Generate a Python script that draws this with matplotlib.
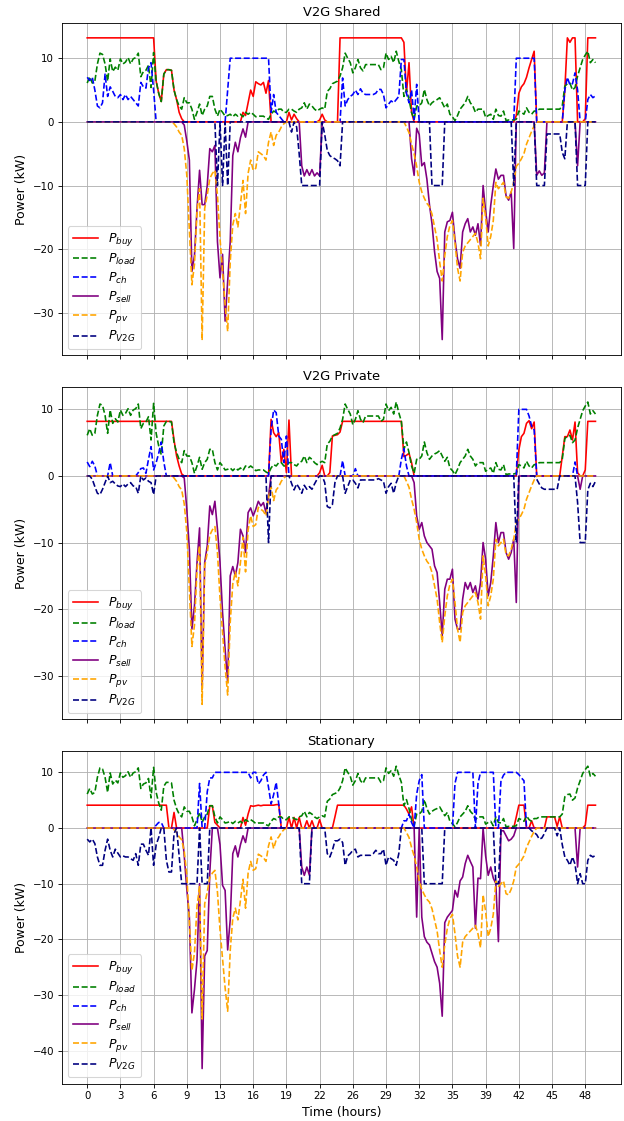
import numpy as np
import matplotlib
matplotlib.use("Agg")
import matplotlib.pyplot as plt

# 15-minute steps over two days (200 samples)
hours = np.arange(200) * 0.25

# load and PV are the same in all three scenarios
load = [6.1, 7.1, 6.1, 6.4, 9.1, 10.8, 10.6, 9.1,
        6.4, 9.9, 7.9, 8.6, 8.1, 9.9, 9.1, 9.4,
        10.1, 9.1, 9.9, 10.1, 10.8, 7.1, 7.9, 8.1,
        8.9, 5.4, 10.9, 6.4, 4.5, 3.2, 7.5, 8.2,
        8.2, 8.1, 5.0, 3.5, 2.5, 2.0, 3.8, 3.0,
        3.0, 2.0, 0.4, 1.5, 2.8, 1.0, 2.0, 2.5,
        4.0, 4.0, 2.0, 0.9, 2.0, 1.5, 0.9, 1.0,
        1.2, 0.8, 1.2, 0.9, 1.2, 0.8, 1.5, 1.2,
        1.5, 1.2, 0.8, 0.9, 0.9, 0.9, 0.6, 0.4,
        1.2, 1.7, 1.5, 2.0, 2.0, 1.5, 1.5, 2.0,
        2.0, 1.7, 1.5, 2.0, 2.2, 3.0, 2.0, 2.8,
        2.5, 2.0, 1.7, 2.0, 2.2, 2.0, 4.8, 5.2,
        6.0, 6.2, 6.4, 7.2, 8.5, 10.8, 10.0, 9.3,
        7.7, 8.5, 9.8, 8.5, 8.0, 9.0, 9.0, 9.0,
        9.0, 9.0, 9.0, 8.2, 8.5, 10.8, 9.8, 10.3,
        9.3, 11.1, 9.5, 8.2, 4.0, 5.1, 3.5, 1.5,
        0.4, 2.5, 2.5, 3.0, 5.1, 3.5, 2.5, 3.0,
        3.3, 3.5, 3.8, 3.0, 2.2, 2.8, 1.2, 0.8,
        0.2, 1.0, 2.0, 2.5, 3.0, 4.0, 3.0, 2.5,
        1.5, 2.0, 2.0, 2.0, 0.7, 1.0, 1.2, 0.4,
        2.0, 1.0, 0.9, 1.7, 0.2, 0.3, 0.3, 0.3,
        0.4, 1.7, 1.5, 1.2, 2.2, 1.5, 1.2, 1.7,
        1.7, 2.0, 2.0, 2.0, 2.0, 2.0, 2.0, 2.0,
        2.0, 2.0, 2.5, 5.6, 6.0, 6.1, 5.0, 5.4,
        7.2, 8.5, 9.8, 10.5, 11.1, 9.3, 9.8, 9.3]

pv = ([0] * 34 +
      [-0.3, -0.8, -1.6, -2.1, -4.2, -8.4,
       -17.0, -25.6, -22.4, -14.0, -10.5, -34.3, -13.6, -11.5,
       -8.9, -8.1, -7.6, -11.5, -18.3, -23.5, -28.7, -32.9,
       -22.0, -16.2, -14.4, -16.5, -13.0, -9.2, -14.4, -8.1,
       -6.0, -7.6, -7.3, -4.7, -5.0, -5.3, -6.0, -3.2,
       -1.6, -3.7, -2.1, -1.6, -0.8, -0.3] +
      [0] * 46 +
      [0, -0.8, -1.7, -3.5, -5.0, -7.0, -9.5, -11.0,
       -12.0, -12.8, -13.3, -14.5, -16.5, -18.5, -22.0, -25.0,
       -21.0, -18.0, -16.3, -15.5, -19.0, -23.0, -25.0, -20.5,
       -19.5, -19.0, -18.5, -18.0, -17.5, -19.0, -21.5, -12.0,
       -15.0, -19.5, -18.0, -15.5, -9.5, -10.5, -10.0, -9.5,
       -11.8, -12.0, -11.0, -9.5, -7.0, -6.5, -5.8, -5.0,
       -3.5, -2.5, -1.5, -0.6] +
      [0] * 24)

# V2G Shared
buy_shared = ([13.2] * 27 +
              [6.4, 4.5, 3.2, 7.5, 8.2, 8.2, 8.1, 5.0, 3.5, 1.5, 0.5] +
              [0] * 23 +
              [1.5, 1.0, 3.0, 5.0, 4.0, 6.3, 6.0, 5.8, 6.2, 4.5, 6.5] +
              [0] * 7 + [1.5, 0.3, 1.2, 0.5] + [0] * 8 + [0.3, 1.2, 0.3] +
              [0] * 5 + [13.2] * 25 + [12.5, 4.5, 9.3, 1.5] + [0] * 40 +
              [1.0, 4.5, 5.5, 6.0, 7.0, 8.5, 9.8, 11.1] + [0] * 11 +
              [5.0, 13.2, 12.5, 13.2, 13.2] + [0] * 3 + [0.5] + [13.2] * 4)
ch_shared = ([7.0, 6.5, 7.0, 5.0, 2.5, 2.2, 3.0, 7.5, 4.0, 5.5, 4.8, 4.0, 3.8, 4.3,
              3.5, 4.3, 3.5, 4.0, 3.5, 3.0, 2.5, 6.2, 5.5, 5.3, 8.5, 9.3, 5.0] +
             [0] * 28 + [5.0] + [10] * 16 + [1.5, 4.3, 1.5, 1.0, 0.5] + [0] * 23 +
             [6.9, 2.5, 3.5, 4.0, 4.3, 5.0, 4.3, 5.2, 4.5, 4.3, 4.3, 4.3, 4.3, 4.5,
              5.1, 5.1, 4.3, 2.2, 2.8, 3.3, 3.0, 3.5, 4.0, 9.8, 9.8, 4.5, 3.0, 5.0,
              0.4, 5.9] +
             [0] * 38 + [10] * 8 + [0] * 11 + [5.0, 7.0, 5.8, 6.0, 7.7, 5.0] +
             [0] * 3 + [3.5, 4.3, 3.8, 4.1])
sell_shared = ([0] * 38 +
               [-0.5, -3.0, -6.0, -23.5, -21.0, -13.6, -7.6, -13.0, -13.0, -10.0,
                -4.2, -4.7, -3.7, -18.8, -24.5, -20.8, -31.3, -25.0, -18.8, -5.3,
                -3.2, -4.7, -2.5, -1.1, -2.4] +
               [0] * 21 + [-6.9, -8.5, -7.5, -8.4, -7.5, -8.5, -8.0, -8.5] + [0] * 35 +
               [-5.8, -8.4, -1.0, -2.0, -6.9, -6.4, -9.0, -13.0, -16.0, -20.4, -23.5,
                -24.6, -34.2, -17.3, -15.7, -15.5, -14.2, -18.5, -21.5, -23.0, -17.3,
                -16.0, -15.2, -17.3, -16.5, -17.8, -16.0, -19.4, -10.0, -14.0, -17.3,
                -13.1, -10.0, -7.4, -9.0, -8.4, -8.4, -11.6, -12.3, -11.0, -19.9] +
               [0] * 8 + [-8.4, -7.7, -8.4, -8.0] + [0] * 12 + [-6.9] + [0] * 7)
v2g_shared = ([0] * 51 + [-10, 0, -10, 0, -10] + [0] * 24 + [-1.6, 0, -0.8, -5.0] +
              [-10] * 8 + [0, -2.0, -4.5, -5.3, -5.6, -5.8, -6.1, -6.9] + [0] * 35 +
              [-10] * 5 + [0] * 27 + [-10] + [0] * 8 + [-10] * 4 +
              [-1.9, -1.9, -1.9, -1.9, -1.9, -1.9, -4.8, -5.8] + [0] * 4 +
              [-10] * 4 + [0] * 4)

# V2G Private
buy_private = ([8.2] * 34 + [5.4, 3.0, 1.5, 0.3] + [0] * 34 +
               [8.5, 6.5, 5.9, 6.5, 2.0, 4.0, 0.5, 8.4] + [0] * 11 + [0.5, 1.6] +
               [0] * 2 + [0.5, 6.0, 6.1, 6.2, 6.6] + [8.2] * 24 + [2.9, 3.1, 3.4, 2.0] +
               [0] * 41 + [3.9, 5.9, 6.4, 7.9, 8.3, 7.1, 8.1] + [0] * 10 +
               [3.0, 5.9, 5.9, 6.9, 5.4, 8.1, 0.5] + [0] * 2 + [0.9] + [8.2] * 4)
ch_private = ([2.1, 1.4, 2.2, 1.5] + [0] * 5 + [2.0] + [0] * 10 +
              [0.5, 1.1, 1.2, 0.4, 2.5, 4.4, 0.9, 2.0, 3.4, 5.1, 2.1] + [0] * 41 +
              [7.0, 9.9, 9.5, 6.0, 5.5, 2.0, 6.0] + [0] * 21 + [2.3] + [0] * 4 +
              [1.1] + [0] * 17 + [2.5, 4.1, 1.5] + [0] * 43 +
              [10, 10, 10, 10, 9.0, 7.5, 6.9] + [0] * 15 + [2.1] + [0] * 8)
sell_private = ([0] * 38 +
                [-0.3, -5.0, -11.0, -23.0, -19.5, -13.0, -7.8, -32.0, -13.0, -10.5,
                 -4.5, -5.8, -3.8, -8.0, -13.0, -20.5, -26.0, -31.0, -15.0, -13.6,
                 -15.0, -13.0, -8.0, -9.0, -11.5, -5.5, -4.8, -6.0, -5.0, -3.8,
                 -4.5, -4.0, -5.5, -3.0] +
                [0] * 56 +
                [-1.0, -6.0, -8.0, -7.0, -9.0, -10.0, -10.5, -11.0, -13.5, -14.5,
                 -19.0, -24.0, -17.0, -15.5, -15.5, -14.0, -21.5, -23.0, -23.0, -18.5,
                 -16.0, -17.0, -16.0, -17.5, -16.5, -18.5, -16.0, -10.0, -12.5, -18.0,
                 -16.0, -12.0, -7.0, -10.0, -8.5, -8.5, -11.5, -12.5, -11.5, -9.5,
                 -19.0] +
                [0] * 24 + [-2.0] + [0] * 6)
v2g_private = ([0, 0, -0.5, -1.6, -2.6, -2.8, -2.0, -1.0, 0, -1.0, -0.8, -1.2, -1.5,
                -1.6, -1.2, -1.6, -1.2, -1.0, -1.5, -1.6, -2.6, 0, -0.6, -0.3, -0.8,
                -1.0, -2.8, 0] +
               [0] * 43 + [-10] + [0] * 8 +
               [-1.1, -2.1, -1.2, -1.8, -2.6, -1.4, -2.0, -1.6, -2.0, -1.2, -0.5, 0,
                0, -1.0, -4.6, -4.8, -4.3, -1.0] +
               [0] * 3 +
               [-2.6, -1.6, -0.6, -0.6, -1.1, -1.8, -0.6, -0.6, -0.6, -0.6, -0.6,
                -0.6, -0.6, -0.4, -0.6, -0.8, -2.6, -1.6, -1.1, -2.6, -1.0] +
               [0] * 46 + [-10] + [0] * 7 +
               [-0.5, -1.2, -1.8, -2.0, -2.0, -2.0, -2.0, -2.0, -2.0] + [0] * 7 +
               [-4.0, -10, -10, -10, -2.1, -1.1, -1.6, -0.8])

# Stationary
buy_stat = ([4.1] * 32 + [0] * 2 + [2.8] + [0] * 13 + [4.0, 4.0, 1.0, 0.5] + [0] * 9 +
            [1.9, 0.5, 2.5, 4.0, 3.9, 4.0, 4.1, 4.0, 4.1, 4.1, 4.1, 4.1, 4.1, 4.2, 4.2] +
            [0] * 3 + [1.9, 0, 1.9, 0, 1.9, 0, 0, 1.3, 0, 1.3, 0, 0, 1.5] + [0] * 5 +
            [2.0] + [4.1] * 27 + [3.4, 2.5, 3.8] + [0] * 40 + [2.0, 4.1, 4.1, 4.1] +
            [0] * 2 + [1.3] + [0] * 5 + [2.0, 2.0, 2.0, 2.0, 0.3, 2.0] + [0] * 9 +
            [0.5] + [4.1] * 4)
ch_stat = ([0] * 27 + [0.5, 1.0, 1.0] + [0] * 14 + [8.0] + [0] * 2 +
           [6.5, 9.0, 9.0] + [10] * 14 +
           [9.0, 10, 10, 7.9, 8.5, 9.5, 10, 7.3, 4.3, 6.0, 8.2, 4.3] + [0] * 48 +
           [1.3, 1.3, 2.5, 1.0, 0, 6.1, 8.5, 9.6] + [0] * 12 + [8.0] + [10] * 7 +
           [0] + [8.0] + [10] * 6 + [0] * 2 +
           [8.5, 9.5, 10, 10, 10, 10, 10, 9.6, 9.0, 8.5] + [0] * 28)
sell_stat = ([0] * 38 +
             [-5.0, -11.0, -16.0, -33.2, -29.0, -23.7, -10.0, -43.2, -23.0, -22.0, -8.0] +
             [0] * 3 +
             [-3.0, -10.3, -11.2, -21.9, -16.5, -4.6, -3.2, -5.2, -3.0, -1.4, -2.6] +
             [0] * 21 + [-7.0, -8.5, -7.0, -8.5] + [0] * 41 +
             [-16.0, 0, -16.0, -19.5, -20.5, -21.0, -22.5, -24.0, -25.0, -27.9,
              -33.8, -17.0, -16.0, -15.4, -14.8, -11.2, -12.4, -9.5, -8.8, -6.4,
              -4.9, -6.0, -7.0, -18.0, -9.0, -9.1, 0, -5.0, -8.5, -7.0, -9.0, -10.0,
              -20.4, -0.5, -0.5, -1.4, -2.3, -2.0, -1.4] +
             [0] * 24 + [-7.0] + [0] * 7)
v2g_stat = ([-2.0, -2.5, -2.0, -2.8, -5.2, -6.7, -6.7, -4.0, -2.0, -4.0, -5.2, -3.8,
             -4.5, -5.2, -5.0, -5.2, -5.2, -5.5, -5.8, -4.6, -6.7, -2.9, -2.9, -4.0,
             -4.9, 0, -6.7, -3.0, -1.7, 0, 0, -5.8, -7.9, -7.9, -1.0, 0, -5.0] +
            [-10] * 7 + [0] + [-10] * 3 + [0] * 36 + [-10] * 4 + [0] * 6 +
            [-4.6, -5.2, -4.0, -2.3, -2.3, -2.0, -2.6, -6.7, -5.0, -4.6, -4.0, -3.8,
             -5.2, -4.9, -4.9, -4.9, -4.9, -4.9, -4.6, -4.0, -4.6, -4.6, -3.8, -6.7,
             -5.2, -5.5, -5.8, -6.7, -4.6] +
            [0] * 9 + [-10] * 8 + [0] * 20 + [-10] * 2 + [0] * 12 +
            [-0.5, -0.8, -1.2, -2.0, -1.8, -1.0, 0, 0, 0, 0, -1.4, 0, -3.0, -5.2,
             -5.8, -6.7, -5.2, -6.5, -10, -8.2, -10, -10, -5.8, -4.9, -5.2, -4.9])

scenarios = [
    ("V2G Shared", buy_shared, ch_shared, sell_shared, v2g_shared),
    ("V2G Private", buy_private, ch_private, sell_private, v2g_private),
    ("Stationary", buy_stat, ch_stat, sell_stat, v2g_stat),
]

tick_pos = hours[::13]
tick_lab = [str(int(h)) for h in tick_pos]

# drawn as an 8-inch wide figure, saved at 78 dpi -> 624 x 1121 px
fig, axes = plt.subplots(3, 1, sharex=True, figsize=(8.0, 14.372))
fig.subplots_adjust(left=0.099, right=0.995, top=0.9797, bottom=0.0333, hspace=0.095)

for ax, (title, buy, ch, sell, v2g) in zip(axes, scenarios):
    ax.plot(hours, buy, color="red", label="$P_{buy}$")
    ax.plot(hours, load, "--", color="green", label="$P_{load}$")
    ax.plot(hours, ch, "--", color="blue", label="$P_{ch}$")
    ax.plot(hours, sell, color="purple", label="$P_{sell}$")
    ax.plot(hours, pv, "--", color="orange", label="$P_{pv}$")
    ax.plot(hours, v2g, "--", color="navy", label="$P_{V2G}$")
    ax.set_title(title, fontsize=12)
    ax.set_ylabel("Power (kW)", fontsize=11.5)
    ax.tick_params(labelsize=9.5)
    ax.grid(True)
    ax.legend(loc="lower left", fontsize=11.5, labelspacing=0.3)

axes[-1].set_xticks(tick_pos)
axes[-1].set_xticklabels(tick_lab)
axes[-1].set_xlabel("Time (hours)", fontsize=11.5)

fig.savefig("out.png", dpi=78)
